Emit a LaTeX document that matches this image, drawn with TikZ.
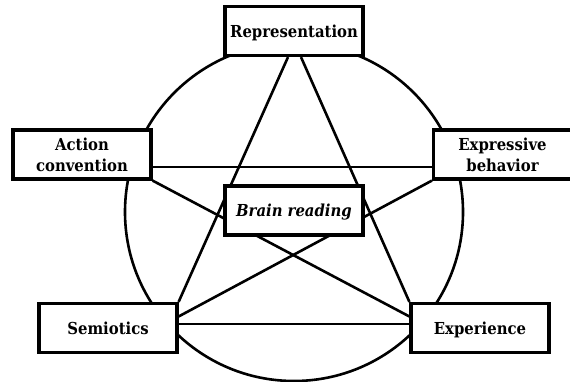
\documentclass[tikz,border=0pt]{standalone}
\usepackage{fontspec}
\newfontfamily\labelfont{DejaVu Serif Condensed}
\usetikzlibrary{calc}
\begin{document}
\begin{tikzpicture}[x=1pt,y=-1pt,
  concept/.style={draw=black,line width=3.2pt,fill=white,
    minimum width=138pt,minimum height=49pt,inner sep=2pt,text depth=0pt,
    align=center,font=\labelfont\fontsize{16.5}{21}\selectfont\bfseries},
  link/.style={draw=black,line width=2.6pt},
  ring/.style={draw=black,line width=2.6pt}]
\useasboundingbox (0,0) rectangle (570,382);

% outer ring behind everything
\draw[ring] (294,212) circle[radius=169pt];

% coordinates of the concepts
\path (294,31)    coordinate (pRep)
      (82,154.5)  coordinate (pAct)
      (502.5,154.5) coordinate (pExpr)
      (294,210.5) coordinate (pBrain)
      (108,328)   coordinate (pSem)
      (480,328)   coordinate (pExp);

% invisible placeholders so the links can refer to box anchors
\foreach \n/\p in {rep/pRep,act/pAct,expr/pExpr,brain/pBrain,sem/pSem,exp/pExp}
  \node[concept,draw=none,fill=none] (\n) at (\p) {};

% links
\draw[link] ($(rep.south)+(-6,0)$) -- (sem.north east);
\draw[link] ($(rep.south)+(7,0)$) -- (exp.north west);
\draw[link] ($(act.east)+(0,12.5)$) -- ($(expr.west)+(0,12.5)$);
\draw[link] (act.south east) -- ($(exp.west)+(0,-11.5)$);
\draw[link] (expr.south west) -- ($(sem.east)+(0,-11.5)$);
\draw[link] ($(sem.east)+(0,-4)$) -- ($(exp.west)+(0,-4)$);

% concept boxes
\node[concept] (repB) at (pRep) {Representation};
\node[concept] (actB) at (pAct) {Action\\convention};
\node[concept] (exprB) at (pExpr) {Expressive\\behavior};
\node[concept,font=\labelfont\fontsize{16.5}{21}\selectfont\bfseries\itshape] (brainB) at (pBrain) {Brain reading};
\node[concept] (semB) at (pSem) {Semiotics};
\node[concept] (expB) at (pExp) {Experience};
\end{tikzpicture}
\end{document}
